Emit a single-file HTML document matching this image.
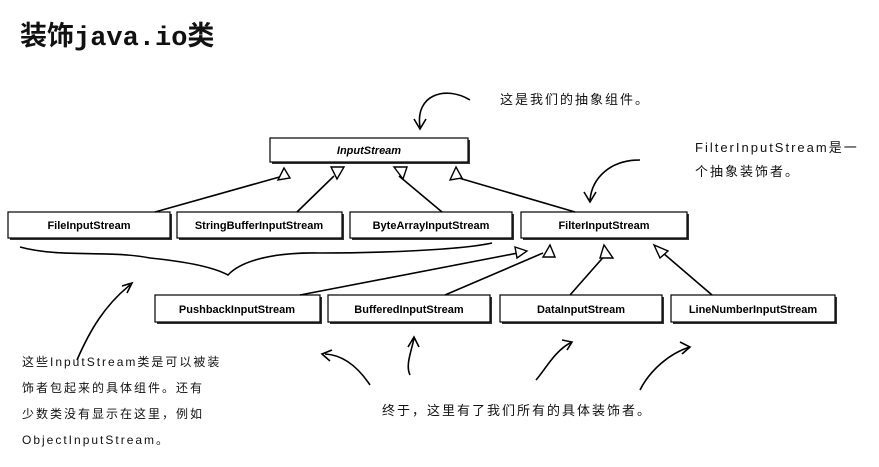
<!DOCTYPE html>
<html><head><meta charset="utf-8"><style>
body{margin:0;background:#fff;width:879px;height:467px;overflow:hidden;position:relative;font-family:"Liberation Sans","Noto Sans CJK SC",sans-serif}
.t{position:absolute;color:#111;white-space:nowrap}
.h{font-size:13px;letter-spacing:2px}
</style></head><body>
<svg width="879" height="467" style="position:absolute;left:0;top:0" font-family="Liberation Sans, sans-serif">
<defs><filter id="s"><feOffset dx="3" dy="3"/></filter></defs>
<g fill="#fff" stroke="#000" stroke-width="1.2">
<g>
<rect x="272" y="140" width="198" height="24" fill="#333" stroke="none"/>
<rect x="270" y="138" width="198" height="24"/>
<rect x="10" y="214" width="162" height="26" fill="#333" stroke="none"/><rect x="8" y="212" width="162" height="26"/>
<rect x="179" y="214" width="165" height="26" fill="#333" stroke="none"/><rect x="177" y="212" width="165" height="26"/>
<rect x="352" y="214" width="162" height="26" fill="#333" stroke="none"/><rect x="350" y="212" width="162" height="26"/>
<rect x="523" y="214" width="166" height="26" fill="#333" stroke="none"/><rect x="521" y="212" width="166" height="26"/>
<rect x="157" y="297" width="165" height="27" fill="#333" stroke="none"/><rect x="155" y="295" width="165" height="27"/>
<rect x="330" y="297" width="162" height="27" fill="#333" stroke="none"/><rect x="328" y="295" width="162" height="27"/>
<rect x="502" y="297" width="162" height="27" fill="#333" stroke="none"/><rect x="500" y="295" width="162" height="27"/>
<rect x="673" y="297" width="164" height="27" fill="#333" stroke="none"/><rect x="671" y="295" width="164" height="27"/>
</g></g>
<g font-size="11" font-weight="bold" text-anchor="middle" fill="#000">
<text x="369" y="154" font-style="italic">InputStream</text>
<text x="89" y="229">FileInputStream</text>
<text x="259" y="229">StringBufferInputStream</text>
<text x="431" y="229">ByteArrayInputStream</text>
<text x="604" y="229">FilterInputStream</text>
<text x="237" y="313">PushbackInputStream</text>
<text x="409" y="313">BufferedInputStream</text>
<text x="581" y="313">DataInputStream</text>
<text x="753" y="313">LineNumberInputStream</text>
</g>
<g stroke="#000" stroke-width="1.6" fill="none">
<line x1="155" y1="212" x2="283" y2="176"/>
<line x1="297" y1="212" x2="334" y2="176"/>
<line x1="442" y1="212" x2="399" y2="176"/>
<line x1="575" y1="212" x2="452" y2="176"/>
<line x1="300" y1="295" x2="518" y2="253"/>
<line x1="445" y1="295" x2="543" y2="253"/>
<line x1="570" y1="295" x2="607" y2="253"/>
<line x1="712" y1="295" x2="663" y2="253"/>
<path d="M20,247 C60,258 110,250 150,258 C190,262 215,268 228,275 C240,262 270,252 320,253 C380,253 460,250 492,243"/>
<path d="M77,360 C90,330 105,305 130,285 M122,286 L132,283 L127,293"/>
<path d="M370,385 C360,370 345,355 325,354 M332,350 L322,354 L330,361"/>
<path d="M410,375 C405,365 412,350 414,338 M408,347 L414,337 L419,347"/>
<path d="M536,380 C545,370 555,350 572,342 M562,340 L572,342 L567,350"/>
<path d="M640,390 C650,370 670,353 690,347 M680,342 L690,347 L682,354"/>
<path d="M470,100 C445,85 415,95 420,127 M414,119 L420,129 L426,119"/>
<path d="M640,160 C610,160 592,178 590,200 M584,192 L590,202 L596,192"/>
</g>
<g fill="#fff" stroke="#000" stroke-width="1.4">
<polygon points="284,168 290,178 278,180"/>
<polygon points="331,167 344,167 337,179"/>
<polygon points="394,167 407,167 403,179"/>
<polygon points="456,167 462,178 450,180"/>
<polygon points="527,251 515,247 517,258"/>
<polygon points="550,245 543,257 555,257"/>
<polygon points="604,245 600,258 613,258"/>
<polygon points="654,245 660,258 668,251"/>
</g>
</svg>
<div class="t" style="left:20px;top:14px;font-size:27px;font-weight:bold;font-family:'Liberation Mono','Noto Sans CJK SC',monospace">装饰java.io类</div>
<div class="t h" style="left:500px;top:89px">这是我们的抽象组件。</div>
<div class="t h" style="left:695px;top:136px;line-height:24px">FilterInputStream是一<br>个抽象装饰者。</div>
<div class="t h" style="left:22px;top:349px;line-height:26px;font-size:12px">这些InputStream类是可以被装<br>饰者包起来的具体组件。还有<br>少数类没有显示在这里，例如<br>ObjectInputStream。</div>
<div class="t h" style="left:382px;top:400px">终于，这里有了我们所有的具体装饰者。</div>
</body></html>
